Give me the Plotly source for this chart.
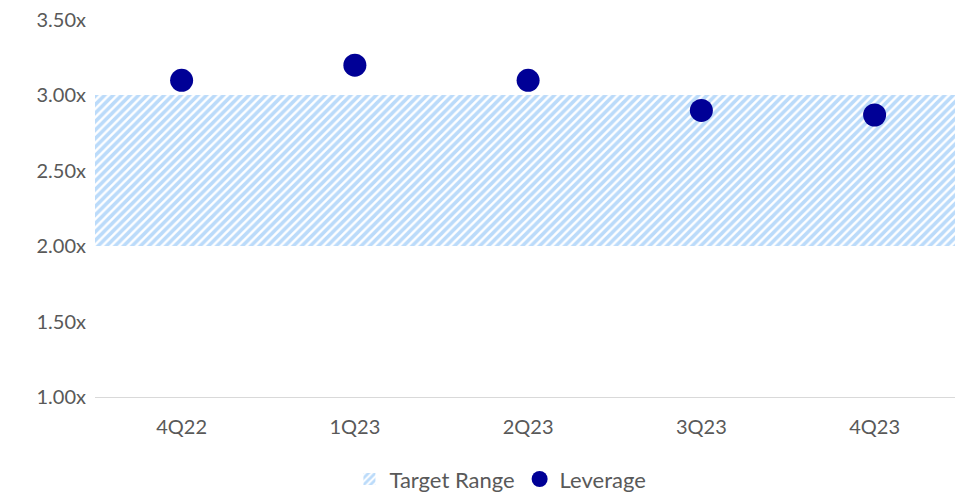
import plotly.graph_objects as go

quarters = ["4Q22", "1Q23", "2Q23", "3Q23", "4Q23"]
leverage = [3.10, 3.20, 3.10, 2.90, 2.87]
target_low = [2.0, 2.0, 2.0, 2.0, 2.0]
target_high = [3.0, 3.0, 3.0, 3.0, 3.0]
y_ticks = [1.0, 1.5, 2.0, 2.5, 3.0, 3.5]

fig = go.Figure()

fig.add_trace(go.Bar(
    x=quarters,
    y=[h - l for h, l in zip(target_high, target_low)],
    base=target_low,
    name="Target Range",
    marker=dict(
        color="#78B7F5",
        line=dict(width=0),
        pattern=dict(shape="/", fgcolor="#78B7F5", bgcolor="white", size=6, solidity=0.6, fillmode="overlay"),
    ),
    hoverinfo="skip",
))

fig.add_trace(go.Scatter(
    x=quarters,
    y=leverage,
    mode="markers",
    name="Leverage",
    marker=dict(color="#000096", size=23),
))

fig.update_layout(
    width=955,
    height=492,
    plot_bgcolor="white",
    paper_bgcolor="white",
    bargap=0,
    font=dict(family="Lato, Open Sans, sans-serif", size=20, color="#595959"),
    margin=dict(l=95, r=0, t=20, b=95),
    legend=dict(orientation="h", xref="container", x=0.524, xanchor="center",
                yref="container", y=0.026, yanchor="middle",
                font=dict(size=22, color="#595959"), itemsizing="trace"),
)
# the last category runs a little past the right edge, as in the original
fig.update_xaxes(range=[-0.5, 4.464], showline=True, linecolor="#D9D9D9", linewidth=1,
                 showgrid=False, ticks="", ticklabelstandoff=12, automargin=False)
fig.update_yaxes(range=[1.0, 3.5], tickvals=y_ticks,
                 ticktext=[f"{v:.2f}x" for v in y_ticks], ticklabeloverflow="allow",
                 showgrid=False, zeroline=False, ticks="", ticklabelstandoff=8, automargin=False)

# drop the browser's default 8px body margin so the figure fills the window
fig.write_html("out.html", config={"displayModeBar": False},
               post_script="document.body.style.margin='0';")
